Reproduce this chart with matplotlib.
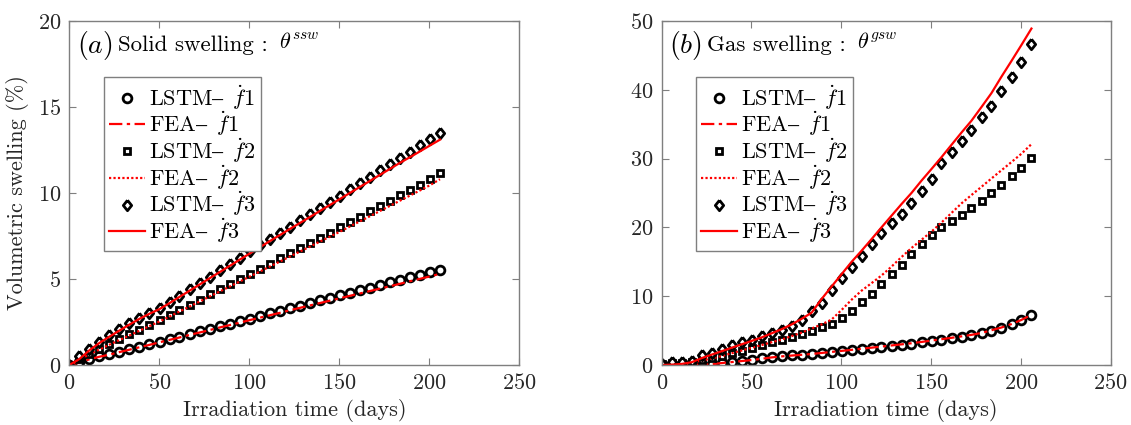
import numpy as np
import matplotlib
matplotlib.use("Agg")
import matplotlib.pyplot as plt

plt.rcParams['font.family'] = ['cmr10', 'DejaVu Serif']
plt.rcParams['mathtext.fontset'] = 'cm'
plt.rcParams['axes.formatter.use_mathtext'] = True

# irradiation time (days), shared by every series
days = [0, 5.6, 11.1, 16.7, 22.3, 27.8, 33.4, 38.9, 44.5, 50.1, 55.7, 61.2, 66.8,
        72.4, 77.9, 83.5, 89.1, 94.6, 100.2, 105.8, 111.3, 116.9, 122.4, 128.0,
        133.6, 139.1, 144.7, 150.3, 155.8, 161.4, 167.0, 172.5, 178.1, 183.6,
        189.2, 194.8, 200.3, 205.9]

# (a) solid swelling
ssw_lstm_f1 = [0, 0.15, 0.35, 0.5, 0.62, 0.78, 0.92, 1.06, 1.2, 1.36, 1.5, 1.65, 1.8,
               1.95, 2.1, 2.25, 2.4, 2.55, 2.7, 2.85, 3.0, 3.15, 3.3, 3.45, 3.6, 3.75,
               3.9, 4.05, 4.2, 4.35, 4.5, 4.65, 4.8, 4.95, 5.1, 5.25, 5.4, 5.55]
ssw_fea_f1 = [0, 0.14, 0.33, 0.48, 0.6, 0.75, 0.89, 1.03, 1.17, 1.32, 1.46, 1.6, 1.75,
              1.89, 2.03, 2.18, 2.32, 2.46, 2.61, 2.75, 2.89, 3.03, 3.18, 3.32, 3.46,
              3.6, 3.74, 3.88, 4.02, 4.16, 4.3, 4.44, 4.58, 4.72, 4.87, 5.01, 5.15, 5.3]
ssw_lstm_f2 = [0, 0.33, 0.65, 0.94, 1.22, 1.5, 1.78, 2.05, 2.32, 2.6, 2.9, 3.2, 3.5,
               3.8, 4.1, 4.4, 4.7, 5.0, 5.3, 5.6, 5.9, 6.2, 6.5, 6.8, 7.1, 7.4, 7.7,
               8.0, 8.31, 8.62, 8.93, 9.24, 9.55, 9.86, 10.17, 10.48, 10.8, 11.15]
ssw_fea_f2 = [0, 0.3, 0.62, 0.9, 1.18, 1.45, 1.72, 1.99, 2.26, 2.53, 2.82, 3.11, 3.4,
              3.69, 3.98, 4.27, 4.56, 4.85, 5.14, 5.43, 5.72, 6.01, 6.3, 6.59, 6.88,
              7.17, 7.46, 7.75, 8.05, 8.35, 8.65, 8.95, 9.25, 9.55, 9.85, 10.15, 10.45, 10.8]
ssw_lstm_f3 = [0, 0.5, 0.95, 1.35, 1.72, 2.08, 2.42, 2.75, 3.03, 3.3, 3.67, 4.03, 4.4,
               4.77, 5.13, 5.5, 5.87, 6.23, 6.6, 6.96, 7.32, 7.68, 8.05, 8.41, 8.77,
               9.13, 9.49, 9.85, 10.22, 10.58, 10.95, 11.31, 11.68, 12.04, 12.41,
               12.77, 13.14, 13.5]
ssw_fea_f3 = [0, 0.35, 0.85, 1.28, 1.65, 2.0, 2.35, 2.68, 2.98, 3.25, 3.6, 3.96, 4.32,
              4.68, 5.04, 5.4, 5.76, 6.12, 6.48, 6.84, 7.2, 7.55, 7.9, 8.25, 8.6, 8.95,
              9.3, 9.65, 10.0, 10.35, 10.7, 11.05, 11.4, 11.75, 12.08, 12.42, 12.76, 13.1]

# (b) gas swelling
gsw_lstm_f1 = [0, 0.05, 0.05, 0.05, 0.05, 0.1, 0.3, 0.45, 0.6, 0.75, 0.95, 1.15, 1.3,
               1.4, 1.5, 1.6, 1.75, 1.9, 2.05, 2.2, 2.35, 2.5, 2.65, 2.8, 2.95, 3.1,
               3.3, 3.5, 3.7, 3.9, 4.1, 4.3, 4.6, 5.0, 5.4, 5.9, 6.5, 7.2]
gsw_fea_f1 = [0, 0.02, 0.03, 0.04, 0.05, 0.1, 0.28, 0.42, 0.57, 0.72, 0.9, 1.1, 1.25,
              1.37, 1.48, 1.6, 1.75, 1.9, 2.05, 2.2, 2.36, 2.52, 2.68, 2.84, 3.0, 3.16,
              3.35, 3.55, 3.75, 3.95, 4.16, 4.38, 4.66, 5.05, 5.45, 5.95, 6.55, 7.3]
gsw_lstm_f2 = [0.2, 0.3, 0.3, 0.4, 0.7, 1.0, 1.3, 1.7, 2.1, 2.5, 2.9, 3.3, 3.6, 4.0,
               4.5, 5.0, 5.5, 6.0, 6.9, 7.9, 9.1, 10.3, 11.7, 13.2, 14.6, 16.1, 17.6,
               18.9, 20.0, 20.9, 21.8, 22.8, 23.9, 25.0, 26.2, 27.4, 28.6, 30.1]
gsw_fea_f2 = [0, 0.1, 0.2, 0.35, 0.65, 0.95, 1.3, 1.7, 2.1, 2.5, 2.9, 3.3, 3.7, 4.2,
              4.7, 5.3, 5.9, 6.6, 8.0, 9.5, 10.8, 11.9, 13.0, 14.3, 15.7, 17.0, 18.2,
              19.4, 20.7, 22.1, 23.5, 24.7, 25.9, 27.1, 28.3, 29.5, 30.7, 32.1]
gsw_lstm_f3 = [0.2, 0.4, 0.4, 0.6, 1.4, 1.8, 2.3, 2.9, 3.3, 3.7, 4.2, 4.6, 5.1, 5.7,
               6.6, 7.8, 9.0, 10.9, 12.7, 14.3, 15.9, 17.6, 19.2, 20.6, 22.0, 23.6,
               25.3, 27.0, 29.4, 31.0, 32.6, 34.2, 36.0, 37.6, 39.8, 41.8, 44.0, 46.7]
gsw_fea_f3 = [0, 0.05, 0.15, 0.4, 1.0, 1.5, 2.0, 2.5, 3.0, 3.5, 4.0, 4.6, 5.2, 5.9,
              6.7, 7.6, 9.6, 11.4, 13.2, 15.0, 16.6, 18.3, 20.0, 21.7, 23.4, 25.0,
              26.8, 28.5, 30.2, 32.0, 33.8, 35.5, 37.5, 39.5, 41.9, 44.2, 46.5, 48.9]

labels = [r'LSTM$\text{–}\ \,\dot{f}1$', r'FEA$\text{–}\ \,\dot{f}1$',
          r'LSTM$\text{–}\ \,\dot{f}2$', r'FEA$\text{–}\ \,\dot{f}2$',
          r'LSTM$\text{–}\ \,\dot{f}3$', r'FEA$\text{–}\ \,\dot{f}3$']

fig = plt.figure(figsize=(11.31, 4.25), dpi=100)
ax1 = fig.add_axes([0.0613, 0.1412, 0.3979, 0.8094])
ax2 = fig.add_axes([0.5850, 0.1412, 0.3970, 0.8094])

diamond = [(0, 1), (0.8, 0), (0, -1), (-0.8, 0), (0, 1)]
mk = dict(color='black', markerfacecolor='white', markeredgecolor='black',
          markeredgewidth=2.0, linestyle='none')
ln = dict(color='red', linewidth=1.6)


def draw(ax, series, ymax, ystep, tag, name, sup):
    ax.plot(days, series[0], marker='o', markersize=6.3, label=labels[0], **mk)
    ax.plot(days, series[1], linestyle=(0, (6, 2, 1.5, 2)), label=labels[1], **ln)
    ax.plot(days, series[2], marker='s', markersize=5.0, label=labels[2], **mk)
    ax.plot(days, series[3], linestyle=(0, (1, 1)), label=labels[3], **ln)
    ax.plot(days, series[4], marker=diamond, markersize=7.5, label=labels[4], **mk)
    ax.plot(days, series[5], linestyle='-', label=labels[5], **ln)

    ax.set_xlim(0, 250)
    ax.set_ylim(0, ymax)
    ax.set_xticks(np.arange(0, 251, 50))
    ax.set_yticks(np.arange(0, ymax + 1, ystep))
    ax.tick_params(direction='in', length=5, width=0.8, top=True, right=True,
                   labelsize=16, colors='#7f7f7f', labelcolor='#262626', pad=6)
    for s in ax.spines.values():
        s.set_color('#7f7f7f')
        s.set_linewidth(1.0)
    ax.set_xlabel('Irradiation time (days)', fontsize=16, color='#262626', labelpad=4)

    t1 = ax.text(0.016, 0.93, tag, transform=ax.transAxes, fontsize=20,
                 va='center', ha='left')
    t2 = ax.annotate(name, xy=(1, 0.5), xycoords=t1, xytext=(4, 0),
                     textcoords='offset points', fontsize=16.5, va='center')
    ax.annotate(sup, xy=(1, 0.5), xycoords=t2, xytext=(8, 2),
                textcoords='offset points', fontsize=16, va='center')

    leg = ax.legend(loc='upper left', bbox_to_anchor=(0.076, 0.837), fontsize=16,
                    handlelength=1.6, handletextpad=0.2, labelspacing=-0.1,
                    borderpad=0.25, borderaxespad=0, fancybox=False, framealpha=1)
    leg.get_frame().set_edgecolor('#7f7f7f')
    leg.get_frame().set_linewidth(1.0)


draw(ax1, [ssw_lstm_f1, ssw_fea_f1, ssw_lstm_f2, ssw_fea_f2, ssw_lstm_f3, ssw_fea_f3],
     20, 5, r'$(a)$', 'Solid swelling :', r'$\theta^{ssw}$')
draw(ax2, [gsw_lstm_f1, gsw_fea_f1, gsw_lstm_f2, gsw_fea_f2, gsw_lstm_f3, gsw_fea_f3],
     50, 10, r'$(b)$', 'Gas swelling :', r'$\theta^{gsw}$')
ax1.set_ylabel('Volumetric swelling (%)', fontsize=16, color='#262626', labelpad=6)

fig.savefig('out.png', dpi=100)
